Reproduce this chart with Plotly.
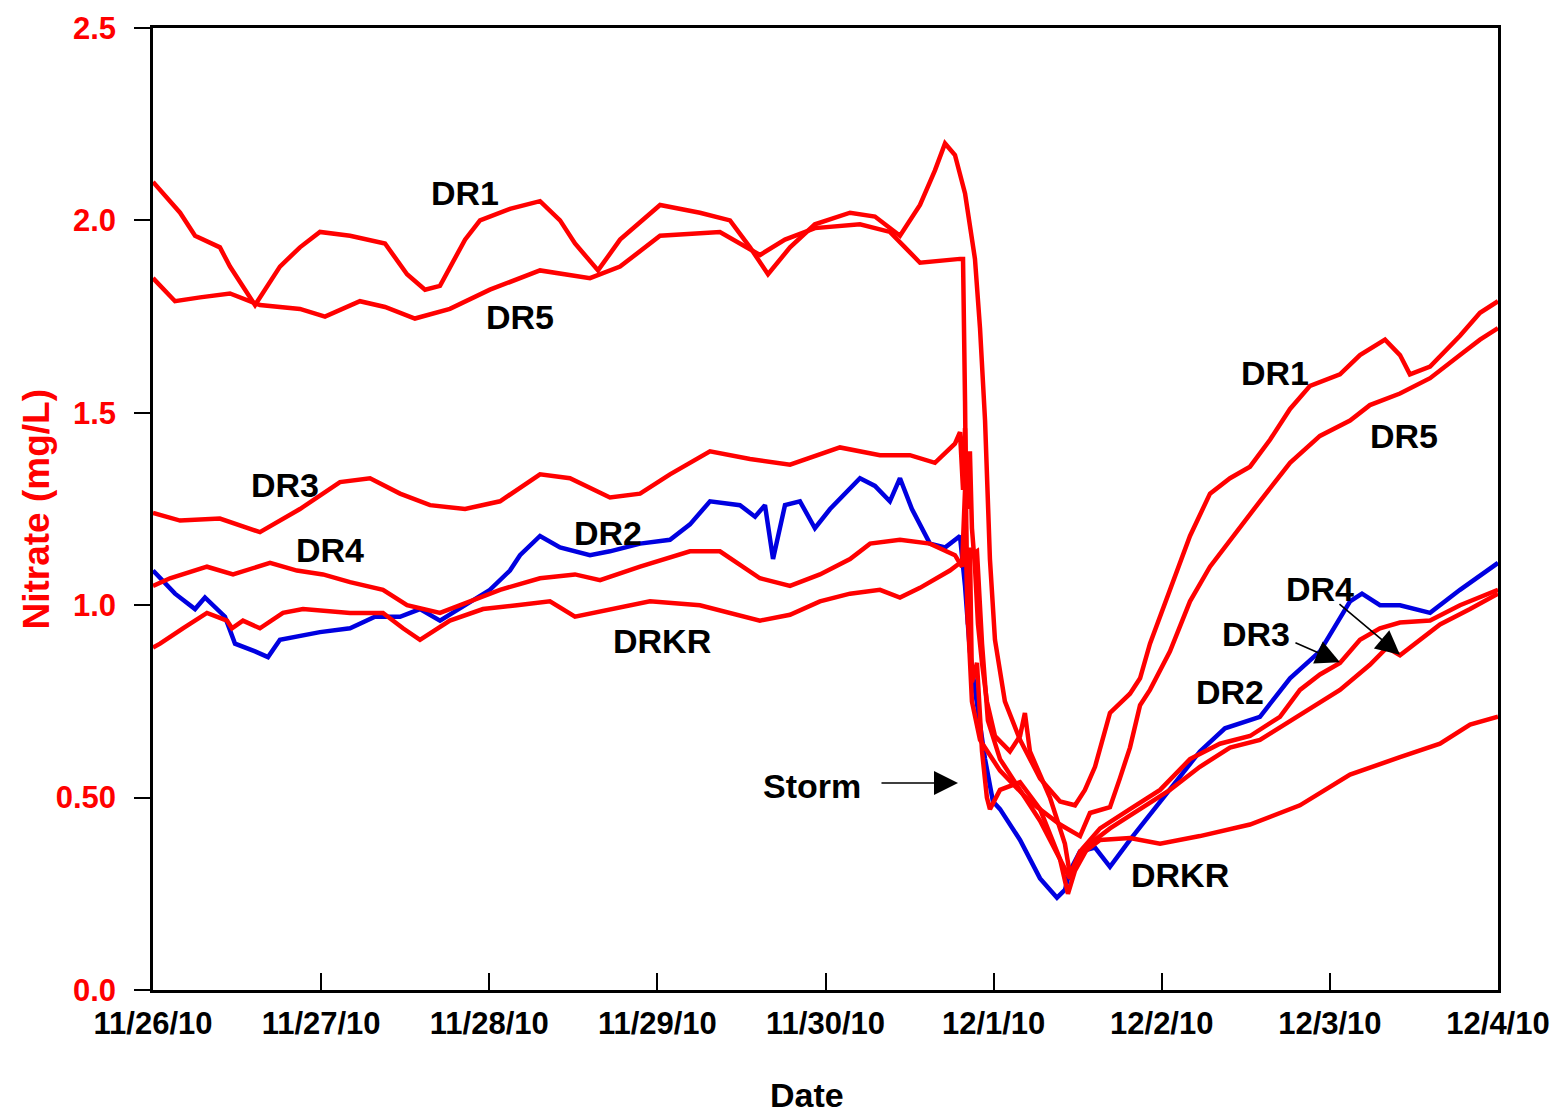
import pandas as pd
import plotly.graph_objects as go

# Nitrate records, time in days after 11/26/10 00:00, value in mg/L
dr1_days = [0, 0.161, 0.25, 0.398, 0.458, 0.607, 0.755, 0.874, 0.993, 1.172, 1.38, 1.511, 1.618, 1.707,
            1.856, 1.945, 2.123, 2.302, 2.421, 2.51, 2.647, 2.778, 3.016, 3.253, 3.432, 3.551, 3.658,
            3.789, 3.937, 4.146, 4.294, 4.443, 4.562, 4.651, 4.711, 4.77, 4.83, 4.889, 4.919, 4.949,
            4.978, 5.008, 5.067, 5.157, 5.276, 5.395, 5.484, 5.543, 5.603, 5.692, 5.811, 5.871, 5.93,
            6.049, 6.168, 6.287, 6.406, 6.525, 6.644, 6.763, 6.882, 7.06, 7.179, 7.328, 7.417, 7.476,
            7.596, 7.774, 7.893, 8.0]
dr1_vals = [2.10, 2.02, 1.96, 1.93, 1.88, 1.78, 1.88, 1.93, 1.97, 1.96, 1.94, 1.86, 1.82, 1.83,
            1.95, 2.00, 2.03, 2.05, 2.00, 1.94, 1.87, 1.95, 2.04, 2.02, 2.00, 1.93, 1.86,
            1.93, 1.99, 2.02, 2.01, 1.96, 2.04, 2.13, 2.20, 2.17, 2.07, 1.90, 1.72, 1.48,
            1.12, 0.91, 0.75, 0.65, 0.55, 0.49, 0.48, 0.52, 0.58, 0.72, 0.77, 0.81, 0.90,
            1.04, 1.18, 1.29, 1.33, 1.36, 1.43, 1.51, 1.57, 1.60, 1.65, 1.69, 1.65, 1.60,
            1.62, 1.70, 1.76, 1.79]

dr5_days = [0, 0.131, 0.28, 0.458, 0.636, 0.874, 1.023, 1.231, 1.38, 1.558, 1.766, 2.004, 2.302,
            2.599, 2.778, 3.016, 3.372, 3.61, 3.759, 3.937, 4.205, 4.383, 4.473, 4.562, 4.8, 4.818,
            4.83, 4.842, 4.871, 4.919, 5.038, 5.216, 5.395, 5.514, 5.573, 5.692, 5.751, 5.811, 5.871,
            5.93, 6.049, 6.168, 6.287, 6.406, 6.584, 6.763, 6.941, 7.12, 7.238, 7.417, 7.596, 7.774,
            7.893, 8.0]
dr5_vals = [1.85, 1.79, 1.80, 1.81, 1.78, 1.77, 1.75, 1.79, 1.775, 1.745, 1.77, 1.82, 1.87,
            1.85, 1.88, 1.96, 1.97, 1.91, 1.95, 1.98, 1.99, 1.97, 1.93, 1.89, 1.90, 1.90,
            1.53, 1.01, 0.75, 0.65, 0.57, 0.49, 0.43, 0.40, 0.46, 0.475, 0.55, 0.63, 0.74,
            0.78, 0.88, 1.01, 1.10, 1.17, 1.27, 1.37, 1.44, 1.48, 1.52, 1.55, 1.59, 1.65,
            1.69, 1.72]

dr3_days = [0, 0.161, 0.398, 0.636, 0.874, 1.112, 1.291, 1.469, 1.648, 1.856, 2.064, 2.302, 2.48,
            2.718, 2.897, 3.075, 3.313, 3.551, 3.789, 4.086, 4.324, 4.502, 4.651, 4.77, 4.8, 4.818,
            4.83, 4.842, 4.859, 4.871, 4.889, 4.907, 4.931, 4.96, 5.008, 5.097, 5.157, 5.186, 5.216,
            5.335, 5.424, 5.454, 5.514, 5.633, 5.811, 5.99, 6.168, 6.346, 6.525, 6.703, 6.822,
            6.941, 7.06, 7.179, 7.298, 7.417, 7.596, 7.774, 8.0]
dr3_vals = [1.24, 1.22, 1.225, 1.19, 1.25, 1.32, 1.33, 1.29, 1.26, 1.25, 1.27, 1.34, 1.33,
            1.28, 1.29, 1.34, 1.40, 1.38, 1.365, 1.41, 1.39, 1.39, 1.37, 1.42, 1.45, 1.30,
            1.46, 1.25, 1.40, 1.20, 1.10, 0.95, 0.85, 0.75, 0.66, 0.62, 0.66, 0.72, 0.62,
            0.50, 0.38, 0.30, 0.36, 0.42, 0.47, 0.52, 0.60, 0.64, 0.66, 0.71, 0.78,
            0.82, 0.85, 0.91, 0.94, 0.955, 0.96, 1.00, 1.04]

dr4_days = [0, 0.101, 0.321, 0.476, 0.696, 0.856, 1.011, 1.172, 1.368, 1.511, 1.707, 1.885, 2.064,
            2.302, 2.51, 2.659, 2.897, 3.194, 3.372, 3.61, 3.789, 3.967, 4.146, 4.265, 4.443, 4.621,
            4.77, 4.812, 4.83, 4.847, 4.859, 4.871, 4.901, 4.931, 4.96, 4.978, 5.038, 5.157, 5.276,
            5.395, 5.442, 5.484, 5.573, 5.692, 5.871, 6.049, 6.227, 6.406, 6.584, 6.763, 6.882,
            7.06, 7.238, 7.34, 7.417, 7.536, 7.655, 7.834, 8.0]
dr4_vals = [1.05, 1.07, 1.10, 1.08, 1.11, 1.09, 1.08, 1.06, 1.04, 1.00, 0.98, 1.01, 1.04,
            1.07, 1.08, 1.065, 1.10, 1.14, 1.14, 1.07, 1.05, 1.08, 1.12, 1.16, 1.17, 1.16,
            1.13, 1.10, 1.30, 0.95, 1.15, 0.80, 0.85, 0.62, 0.50, 0.47, 0.52, 0.54, 0.47,
            0.34, 0.25, 0.31, 0.38, 0.42, 0.47, 0.52, 0.58, 0.63, 0.65, 0.70, 0.73,
            0.78, 0.845, 0.89, 0.87, 0.91, 0.95, 0.99, 1.03]

drkr_days = [0, 0.042, 0.178, 0.321, 0.44, 0.47, 0.535, 0.636, 0.773, 0.892, 1.172, 1.368, 1.487,
             1.588, 1.766, 1.963, 2.165, 2.361, 2.51, 2.718, 2.956, 3.253, 3.432, 3.61, 3.789, 3.967,
             4.146, 4.324, 4.443, 4.562, 4.74, 4.83, 4.901, 4.931, 4.966, 5.038, 5.157, 5.276, 5.395,
             5.454, 5.514, 5.633, 5.811, 5.99, 6.227, 6.525, 6.822, 7.12, 7.417, 7.655, 7.834, 8.0]
drkr_vals = [0.89, 0.90, 0.94, 0.98, 0.96, 0.94, 0.96, 0.94, 0.98, 0.99, 0.98, 0.98, 0.94,
             0.91, 0.96, 0.99, 1.00, 1.01, 0.97, 0.99, 1.01, 1.00, 0.98, 0.96, 0.975, 1.01,
             1.03, 1.04, 1.02, 1.045, 1.09, 1.12, 1.14, 0.90, 0.70, 0.60, 0.52, 0.44, 0.34,
             0.29, 0.35, 0.39, 0.395, 0.38, 0.40, 0.43, 0.48, 0.56, 0.605, 0.64, 0.69, 0.71]

dr2_days = [0, 0.131, 0.25, 0.309, 0.428, 0.488, 0.607, 0.684, 0.755, 0.993, 1.172, 1.32, 1.469,
            1.588, 1.707, 1.856, 2.004, 2.123, 2.183, 2.302, 2.421, 2.599, 2.718, 2.897, 3.075,
            3.194, 3.313, 3.491, 3.581, 3.64, 3.688, 3.759, 3.848, 3.937, 4.027, 4.205, 4.294,
            4.383, 4.443, 4.514, 4.621, 4.711, 4.8, 4.83, 4.859, 4.889, 4.949, 4.996, 5.038, 5.157,
            5.276, 5.377, 5.424, 5.454, 5.514, 5.603, 5.692, 5.811, 5.99, 6.227, 6.376, 6.584,
            6.763, 6.941, 7.12, 7.191, 7.298, 7.417, 7.596, 7.774, 8.0]
dr2_vals = [1.09, 1.03, 0.99, 1.02, 0.97, 0.90, 0.88, 0.865, 0.91, 0.93, 0.94, 0.97, 0.97,
            0.99, 0.96, 1.00, 1.04, 1.09, 1.13, 1.18, 1.15, 1.13, 1.14, 1.16, 1.17,
            1.21, 1.27, 1.26, 1.23, 1.26, 1.12, 1.26, 1.27, 1.20, 1.25, 1.33, 1.31,
            1.27, 1.33, 1.25, 1.16, 1.15, 1.18, 1.05, 0.88, 0.78, 0.60, 0.49, 0.47, 0.39,
            0.29, 0.24, 0.26, 0.31, 0.36, 0.37, 0.32, 0.39, 0.49, 0.62, 0.68, 0.71,
            0.81, 0.88, 1.01, 1.03, 1.00, 1.00, 0.98, 1.04, 1.11]

x_tick_days = [0, 1, 2, 3, 4, 5, 6, 7, 8]
x_tick_text = ["11/26/10", "11/27/10", "11/28/10", "11/29/10", "11/30/10",
               "12/1/10", "12/2/10", "12/3/10", "12/4/10"]
y_tick_vals = [0, 0.5, 1.0, 1.5, 2.0, 2.5]
y_tick_text = ["0.0", "0.50", "1.0", "1.5", "2.0", "2.5"]

START = pd.Timestamp("2010-11-26")


def to_time(days):
    return [START + pd.Timedelta(days=d) for d in days]


RED = "#ff0000"
BLUE = "#0000e0"
FONT = "Liberation Sans, Arial, sans-serif"

fig = go.Figure()
for days, vals, name, color in [
    (dr2_days, dr2_vals, "DR2", BLUE),
    (drkr_days, drkr_vals, "DRKR", RED),
    (dr4_days, dr4_vals, "DR4", RED),
    (dr3_days, dr3_vals, "DR3", RED),
    (dr5_days, dr5_vals, "DR5", RED),
    (dr1_days, dr1_vals, "DR1", RED),
]:
    fig.add_trace(go.Scatter(x=to_time(days), y=vals, mode="lines", name=name,
                             line=dict(color=color, width=4.5), showlegend=False))

# Series labels (day, value, text)
labels = [
    (1.856, 2.071, "DR1"), (2.183, 1.749, "DR5"), (0.785, 1.312, "DR3"),
    (1.053, 1.143, "DR4"), (2.706, 1.188, "DR2"), (3.027, 0.907, "DRKR"),
    (3.92, 0.53, "Storm"), (6.674, 1.603, "DR1"), (7.441, 1.44, "DR5"),
    (6.941, 1.042, "DR4"), (6.56, 0.925, "DR3"), (6.406, 0.774, "DR2"),
    (6.108, 0.299, "DRKR"),
]
for d, v, t in labels:
    fig.add_annotation(x=START + pd.Timedelta(days=d), y=v, text=t, showarrow=False,
                       font=dict(family=FONT, size=34, color="black", weight="bold"))

# Pointer arrows (head day, head value, tail offset in px)
arrows = [(4.788, 0.538, -78, 0), (7.417, 0.871, -62, -52), (7.06, 0.852, -46, -20)]
for d, v, ax, ay in arrows:
    fig.add_annotation(x=START + pd.Timedelta(days=d), y=v, text="", showarrow=True,
                       ax=ax, ay=ay, arrowhead=2, arrowsize=3, arrowwidth=1.6,
                       arrowcolor="black", standoff=0)

fig.add_annotation(xref="paper", yref="paper", x=0, y=0.5, xshift=-140,
                   text="Nitrate (mg/L)", textangle=-90, showarrow=False,
                   font=dict(family=FONT, size=37, color=RED, weight="bold"))
fig.add_annotation(xref="paper", yref="paper", x=0.486, y=0, yshift=-105,
                   text="Date", showarrow=False, yanchor="middle",
                   font=dict(family=FONT, size=34, color="black", weight="bold"))

fig.update_xaxes(type="date", range=[START, START + pd.Timedelta(days=8)],
                 tickvals=to_time(x_tick_days), ticktext=x_tick_text,
                 ticks="inside", ticklen=17, tickwidth=2, tickcolor="black",
                 showline=True, linecolor="black", linewidth=2.5, mirror=True,
                 showgrid=False, zeroline=False, ticklabelstandoff=4,
                 tickfont=dict(family=FONT, size=31, color="black", weight="bold"))
fig.update_yaxes(range=[0, 2.5], tickvals=y_tick_vals, ticktext=y_tick_text,
                 ticks="outside", ticklen=16, tickwidth=2, tickcolor="black",
                 showline=True, linecolor="black", linewidth=2.5, mirror=True,
                 showgrid=False, zeroline=False, ticklabelstandoff=12,
                 tickfont=dict(family=FONT, size=31, color=RED, weight="bold"))

fig.update_layout(width=1562, height=1116, autosize=False,
                  margin=dict(l=153, r=64, t=28, b=126),
                  paper_bgcolor="white", plot_bgcolor="white")

fig.write_html("out.html")
